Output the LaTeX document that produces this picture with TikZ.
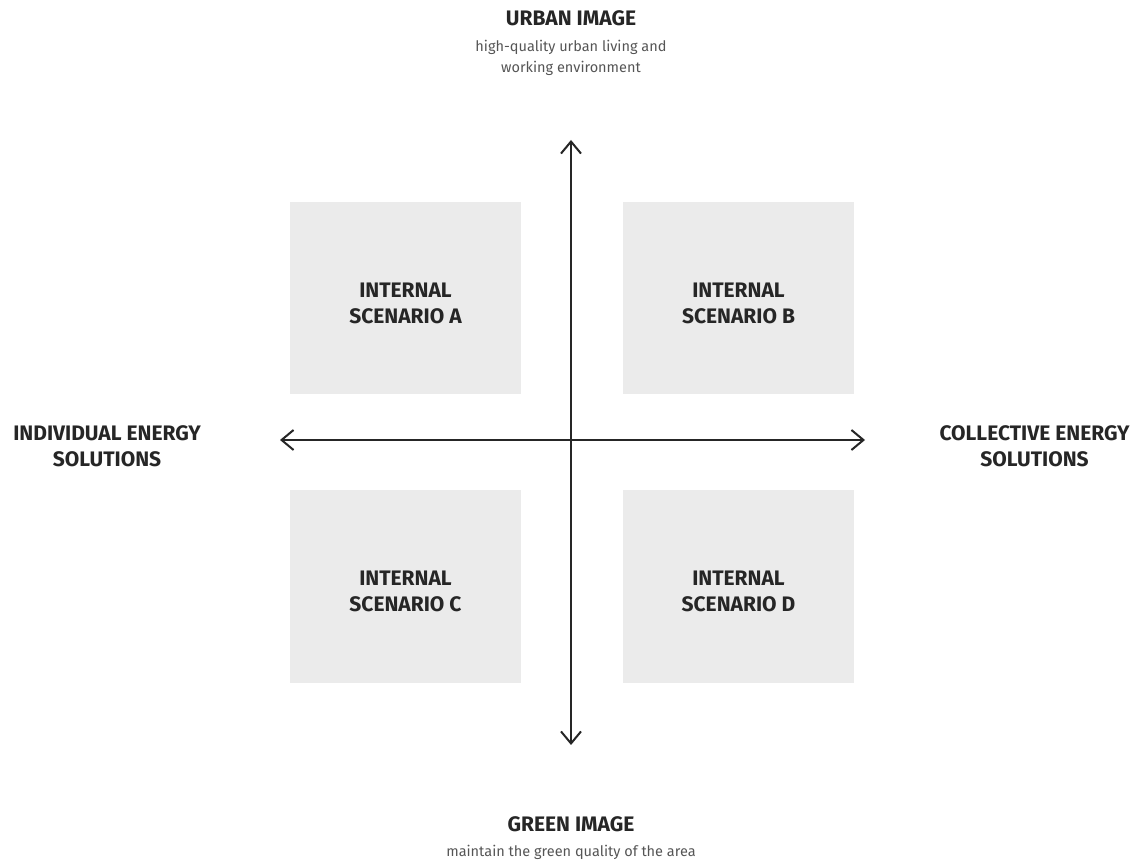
\documentclass[tikz,border=0pt]{standalone}
\usepackage{fontspec}
\setmainfont{Fira Sans}
\usetikzlibrary{arrows.meta}
\definecolor{boxgray}{HTML}{EBEBEB}
\definecolor{ink}{HTML}{262626}
\definecolor{subgray}{HTML}{555555}
\begin{document}
\begin{tikzpicture}[x=1pt,y=1pt,
	axis line/.style={ink,line width=2pt,<->,>={Straight Barb[length=12pt,width=20pt]}},
	quad box/.style={fill=boxgray},
	head/.style={font=\bfseries\fontsize{21}{26}\selectfont,text=ink,align=center},
	sub/.style={font=\fontsize{14.5}{20.5}\selectfont,text=subgray,align=center}]
		\useasboundingbox (0,0) rectangle (1146,862); %page
		\fill[quad box] (290,468) rectangle (521,660); %box A
		\fill[quad box] (623,468) rectangle (854,660); %box B
		\fill[quad box] (290,179) rectangle (521,372); %box C
		\fill[quad box] (623,179) rectangle (854,372); %box D
		\node[head] (scenA) at (405.5,559) {INTERNAL\\SCENARIO A};
		\node[head] (scenB) at (738.5,559) {INTERNAL\\SCENARIO B};
		\node[head] (scenC) at (405.5,271) {INTERNAL\\SCENARIO C};
		\node[head] (scenD) at (738.5,271) {INTERNAL\\SCENARIO D};
		\coordinate (top) at (571,722); %arrow tips
		\coordinate (bottom) at (571,117);
		\coordinate (left) at (280,422);
		\coordinate (right) at (865,422);
		\draw[axis line] (top) -- (bottom); %vertical axis
		\draw[axis line] (left) -- (right); %horizontal axis
		\node[head] (indiv) at (107,416) {INDIVIDUAL ENERGY\\SOLUTIONS};
		\node[head] (coll) at (1034.5,416) {COLLECTIVE ENERGY\\SOLUTIONS};
		\node[head] (urban) at (571,843.5) {URBAN IMAGE};
		\node[sub] (urbansub) at (571,804) {high-quality urban living and\\working environment};
		\node[head] (green) at (571,37.5) {GREEN IMAGE};
		\node[sub] (greensub) at (571,10) {maintain the green quality of the area};
\end{tikzpicture}
\end{document}
